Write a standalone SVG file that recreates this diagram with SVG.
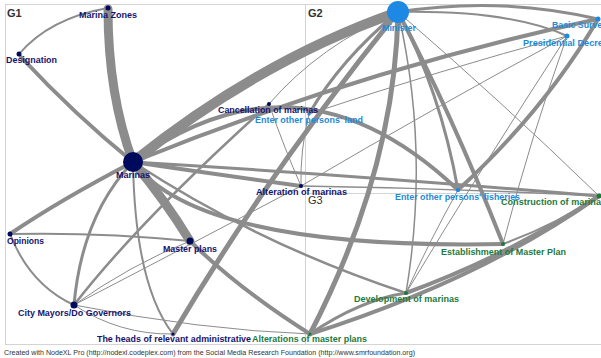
<svg xmlns="http://www.w3.org/2000/svg" width="601" height="358" viewBox="0 0 601 358">
<style>
.bg{fill:#ffffff}
.frame{fill:none;stroke:#d4d4d4;stroke-width:1}
.e{fill:none;stroke:#8c8c8c;stroke-linecap:round}
.lab{font-family:"Liberation Sans",Arial,sans-serif;font-weight:bold;font-size:8.5px}
.g1{fill:#14146e}
.g2{fill:#1e8ad6}
.g3{fill:#1e7a3c}
.n1{fill:#000a5c}
.n2{fill:#1e88e5}
.n3{fill:#1b7a3a}
.title{font-family:"Liberation Sans",Arial,sans-serif;font-weight:bold;font-size:11px;fill:#333333}
.foot{font-family:"Liberation Sans",Arial,sans-serif;font-size:6.8px;fill:#333333}
</style>
<rect class="bg" x="0" y="0" width="601" height="358"/>
<g id="frame">
<rect class="frame" x="5.5" y="4.5" width="600" height="340"/>
<line class="frame" x1="305.5" y1="4.5" x2="305.5" y2="344.5"/>
<line class="frame" x1="305.5" y1="193.5" x2="601" y2="193.5"/>
<text class="title" x="7" y="16.5">G1</text>
<text class="title" x="308" y="16.5">G2</text>
<text class="title" x="308" y="203.5" style="font-weight:normal">G3</text>
</g>
<g id="connectors">
<path class="e" stroke-width="1.8" d="M108,8 Q50,18 19,54"/>
<path class="e" stroke-width="9" d="M108,9 Q108,95 133,162"/>
<path class="e" stroke-width="4" d="M21,57 Q75,115 133,162"/>
<path class="e" stroke-width="4" d="M133,162 Q60,200 10,234"/>
<path class="e" stroke-width="2" d="M10,234 Q100,232 190,241"/>
<path class="e" stroke-width="2" d="M10,234 Q30,285 74,305"/>
<path class="e" stroke-width="3" d="M133,162 Q82,215 74,305"/>
<path class="e" stroke-width="9" d="M133,162 Q165,200 190,241"/>
<path class="e" stroke-width="2" d="M133,162 Q135,285 173,334"/>
<path class="e" stroke-width="1" d="M74,305 Q130,265 190,241"/>
<path class="e" stroke-width="1" d="M74,305 Q180,250 301,186"/>
<path class="e" stroke-width="1" d="M74,305 Q120,335 173,334"/>
<path class="e" stroke-width="1" d="M74,305 Q200,330 310,334"/>
<path class="e" stroke-width="2.5" d="M74,305 Q140,220 269,104"/>
<path class="e" stroke-width="4" d="M190,241 Q240,290 310,334"/>
<path class="e" stroke-width="5" d="M173,334 Q270,170 398,12"/>
<path class="e" stroke-width="4" d="M133,162 Q220,175 301,186"/>
<path class="e" stroke-width="10" d="M133,162 Q260,60 398,12"/>
<path class="e" stroke-width="4" d="M133,162 Q360,70 598,19"/>
<path class="e" stroke-width="4" d="M133,162 Q300,40 458,190"/>
<path class="e" stroke-width="4" d="M133,162 Q200,250 503,244"/>
<path class="e" stroke-width="3" d="M133,162 Q350,175 599,196"/>
<path class="e" stroke-width="2.5" d="M133,162 Q260,245 406,293"/>
<path class="e" stroke-width="3" d="M398,12 Q500,-4 598,19"/>
<path class="e" stroke-width="2" d="M398,12 Q510,10 567,36"/>
<path class="e" stroke-width="1" d="M398,12 Q320,45 269,104"/>
<path class="e" stroke-width="3" d="M398,12 Q340,60 309,114"/>
<path class="e" stroke-width="5" d="M398,12 Q395,170 310,334"/>
<path class="e" stroke-width="4" d="M398,12 Q450,110 503,244"/>
<path class="e" stroke-width="1.5" d="M398,12 Q430,150 406,293"/>
<path class="e" stroke-width="3" d="M398,12 Q440,90 458,190"/>
<path class="e" stroke-width="4" d="M458,190 Q545,110 598,19"/>
<path class="e" stroke-width="1" d="M567,36 Q440,70 309,114"/>
<path class="e" stroke-width="1" d="M567,36 Q430,110 301,186"/>
<path class="e" stroke-width="1" d="M567,36 Q480,170 406,293"/>
<path class="e" stroke-width="1" d="M567,36 Q530,140 503,244"/>
<path class="e" stroke-width="1" d="M269,104 Q285,150 301,186"/>
<path class="e" stroke-width="1" d="M309,114 Q300,150 301,186"/>
<path class="e" stroke-width="1.5" d="M301,186 Q450,188 599,196"/>
<path class="e" stroke-width="1" d="M458,190 Q430,240 406,293"/>
<path class="e" stroke-width="1" d="M599,196 Q500,100 398,12"/>
<path class="e" stroke-width="4" d="M310,334 Q480,280 599,196"/>
<path class="e" stroke-width="4" d="M406,293 Q510,255 599,196"/>
<path class="e" stroke-width="3" d="M310,334 Q360,300 406,293"/>
<path class="e" stroke-width="2" d="M503,244 Q555,225 599,196"/>
</g>
<g id="n-marina-zones"><circle class="n1" cx="108" cy="8" r="2.5"/><text class="lab g1" x="79" y="18" textLength="58" lengthAdjust="spacingAndGlyphs">Marina Zones</text></g>
<g id="n-designation"><circle class="n1" cx="19" cy="54" r="2.5"/><text class="lab g1" x="6" y="63" textLength="51" lengthAdjust="spacingAndGlyphs">Designation</text></g>
<g id="n-marinas"><circle class="n1" cx="133" cy="162" r="10"/><text class="lab g1" x="116" y="178" textLength="34" lengthAdjust="spacingAndGlyphs">Marinas</text></g>
<g id="n-opinions"><circle class="n1" cx="10" cy="234" r="2.5"/><text class="lab g1" x="7" y="244" textLength="37" lengthAdjust="spacingAndGlyphs">Opinions</text></g>
<g id="n-city-mayors"><circle class="n1" cx="74" cy="305" r="3.5"/><text class="lab g1" x="18" y="316" textLength="113" lengthAdjust="spacingAndGlyphs">City Mayors/Do Governors</text></g>
<g id="n-master-plans"><circle class="n1" cx="190" cy="241" r="3.5"/><text class="lab g1" x="163" y="252" textLength="54" lengthAdjust="spacingAndGlyphs">Master plans</text></g>
<g id="n-heads"><circle class="n1" cx="173" cy="334" r="1.5"/><text class="lab g1" x="97" y="342" textLength="154" lengthAdjust="spacingAndGlyphs">The heads of relevant administrative</text></g>
<g id="n-cancellation"><circle class="n1" cx="269" cy="104" r="2"/><text class="lab g1" x="218" y="113" textLength="100" lengthAdjust="spacingAndGlyphs">Cancellation of marinas</text></g>
<g id="n-alteration"><circle class="n1" cx="301" cy="186" r="2"/><text class="lab g1" x="256" y="195" textLength="91" lengthAdjust="spacingAndGlyphs">Alteration of marinas</text></g>
<g id="n-minister"><circle class="n2" cx="398" cy="12" r="11"/><text class="lab g2" x="382" y="31" textLength="34" lengthAdjust="spacingAndGlyphs">Minister</text></g>
<g id="n-basic-surveys"><circle class="n2" cx="598" cy="19" r="2.5"/><text class="lab g2" x="552" y="28" textLength="60" lengthAdjust="spacingAndGlyphs">Basic Surveys</text></g>
<g id="n-presidential-decree"><circle class="n2" cx="567" cy="36" r="2.5"/><text class="lab g2" x="523" y="46" textLength="85" lengthAdjust="spacingAndGlyphs">Presidential Decree</text></g>
<g id="n-enter-land"><circle class="n2" cx="309" cy="114" r="1.5"/><text class="lab g2" x="255" y="123" textLength="108" lengthAdjust="spacingAndGlyphs">Enter other persons' land</text></g>
<g id="n-enter-fisheries"><circle class="n2" cx="458" cy="190" r="2"/><text class="lab g2" x="395" y="200" textLength="125" lengthAdjust="spacingAndGlyphs">Enter other persons' fisheries</text></g>
<g id="n-construction"><circle class="n3" cx="599" cy="196" r="2.5"/><text class="lab g3" x="501" y="205" textLength="105" lengthAdjust="spacingAndGlyphs">Construction of marinas</text></g>
<g id="n-establishment"><circle class="n3" cx="503" cy="244" r="2"/><text class="lab g3" x="441" y="255" textLength="125" lengthAdjust="spacingAndGlyphs">Establishment of Master Plan</text></g>
<g id="n-development"><circle class="n3" cx="406" cy="293" r="2"/><text class="lab g3" x="354" y="302" textLength="105" lengthAdjust="spacingAndGlyphs">Development of marinas</text></g>
<g id="n-alterations-mp"><circle class="n3" cx="310" cy="334" r="1.5"/><text class="lab g3" x="252" y="342" textLength="115" lengthAdjust="spacingAndGlyphs">Alterations of master plans</text></g>
<text class="foot" x="4" y="355" textLength="411" lengthAdjust="spacingAndGlyphs">Created with NodeXL Pro (http://nodexl.codeplex.com) from the Social Media Research Foundation (http://www.smrfoundation.org)</text>
</svg>
